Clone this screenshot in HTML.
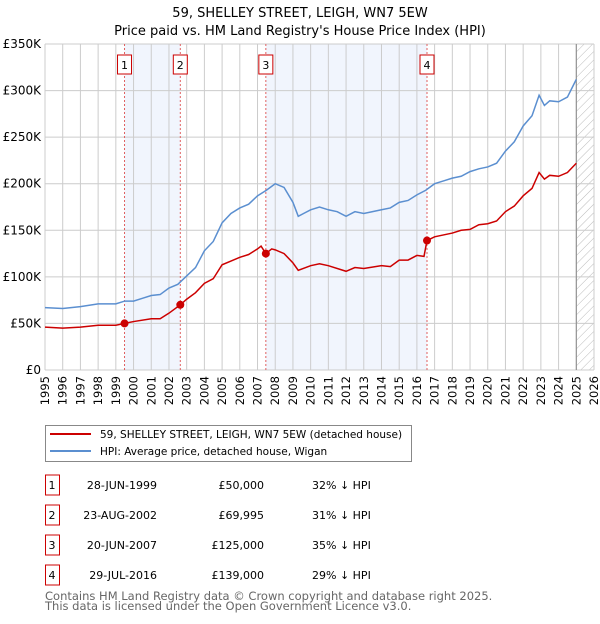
<!DOCTYPE html>
<html><head><meta charset="utf-8"><style>
body{margin:0;background:#fff;font-family:"DejaVu Sans","Liberation Sans",sans-serif}
svg text{font-family:"DejaVu Sans","Liberation Sans",sans-serif}
</style></head><body>
<svg id="c" width="600" height="620" viewBox="0 0 600 620" xmlns="http://www.w3.org/2000/svg">
<defs><pattern id="hatch" width="6" height="6" patternUnits="userSpaceOnUse" patternTransform="rotate(45)"><line x1="0" y1="0" x2="0" y2="6" stroke="#bbb" stroke-width="1"/></pattern></defs>
<text x="300" y="17" text-anchor="middle" font-size="13">59, SHELLEY STREET, LEIGH, WN7 5EW</text>
<text x="300" y="35" text-anchor="middle" font-size="13">Price paid vs. HM Land Registry's House Price Index (HPI)</text>
<g id="plot"></g>
<g>
<rect x="45.5" y="425.5" width="366" height="36" fill="#fff" stroke="#888"/>
<line x1="50" y1="434" x2="91" y2="434" stroke="#cc0000" stroke-width="2"/>
<text x="100" y="438" font-size="10.5">59, SHELLEY STREET, LEIGH, WN7 5EW (detached house)</text>
<line x1="50" y1="451" x2="91" y2="451" stroke="#5b8fd0" stroke-width="2"/>
<text x="100" y="455" font-size="10.5">HPI: Average price, detached house, Wigan</text>
</g>
<g id="table" font-size="11"></g>
<text x="45" y="600" font-size="11.5" fill="#666">Contains HM Land Registry data © Crown copyright and database right 2025.</text>
<text x="45" y="610" font-size="11.5" fill="#666">This data is licensed under the Open Government Licence v3.0.</text>
</svg>
<script>
const hpiYears=[1995,1996,1997,1998,1999,1999.5,2000,2000.5,2001,2001.5,2002,2002.5,2003,2003.5,2004,2004.5,2005,2005.5,2006,2006.5,2007,2007.5,2008,2008.5,2009,2009.3,2009.6,2010,2010.5,2011,2011.5,2012,2012.5,2013,2013.5,2014,2014.5,2015,2015.5,2016,2016.5,2017,2017.5,2018,2018.5,2019,2019.5,2020,2020.5,2021,2021.5,2022,2022.5,2022.9,2023.2,2023.5,2024,2024.5,2025];
const hpiValues=[67,66,68,71,71,74,74,77,80,81,88,92,101,110,128,138,158,168,174,178,187,193,200,196,180,165,168,172,175,172,170,165,170,168,170,172,174,180,182,188,193,200,203,206,208,213,216,218,222,235,245,262,273,295,284,289,288,293,312];
const propYears=[1995,1996,1997,1998,1999,1999.49,2000,2001,2001.5,2002,2002.64,2003,2003.5,2004,2004.5,2005,2005.5,2006,2006.5,2007,2007.2,2007.47,2007.8,2008,2008.5,2009,2009.3,2010,2010.5,2011,2012,2012.5,2013,2014,2014.5,2015,2015.5,2016,2016.4,2016.57,2017,2017.5,2018,2018.5,2019,2019.5,2020,2020.5,2021,2021.5,2022,2022.5,2022.9,2023.2,2023.5,2024,2024.5,2025];
const propValues=[46,45,46,48,48,50,52,55,55,61,70,76,83,93,98,113,117,121,124,130,133,125,130,129,125,115,107,112,114,112,106,110,109,112,111,118,118,123,122,139,143,145,147,150,151,156,157,160,170,176,187,195,212,205,209,208,212,222];
const saleYears=[1999.49,2002.64,2007.47,2016.57];
const saleValues=[50,69.995,125,139];
const saleLabels=["1","2","3","4"];
const saleDates=["28-JUN-1999","23-AUG-2002","20-JUN-2007","29-JUL-2016"];
const salePrices=["£50,000","£69,995","£125,000","£139,000"];
const salePcts=["32% ↓ HPI","31% ↓ HPI","35% ↓ HPI","29% ↓ HPI"];
const yTicks=[0,50,100,150,200,250,300,350];
const yTickLabels=["£0","£50K","£100K","£150K","£200K","£250K","£300K","£350K"];
const xTicks=[1995,1996,1997,1998,1999,2000,2001,2002,2003,2004,2005,2006,2007,2008,2009,2010,2011,2012,2013,2014,2015,2016,2017,2018,2019,2020,2021,2022,2023,2024,2025,2026];

const X0=45,X1=594,Y0=370,Y1=44;
const x=v=>X0+(v-1995)/(2026-1995)*(X1-X0);
const y=v=>Y0-v/350*(Y0-Y1);
const NS="http://www.w3.org/2000/svg";
const plot=document.getElementById('plot');
function mk(tag,attrs,parent){const e=document.createElementNS(NS,tag);for(const k in attrs)e.setAttribute(k,attrs[k]);(parent||plot).appendChild(e);return e;}
for(let i=0;i<saleYears.length-1;i+=2){
 const r=mk('rect',{x:x(saleYears[i]),y:Y1,width:x(saleYears[i+1])-x(saleYears[i]),height:Y0-Y1,fill:'#eef3fc',opacity:0.8});
 
 
}
const h=mk('rect',{x:x(2025),y:Y1,width:X1-x(2025),height:Y0-Y1,fill:'url(#hatch)'});


xTicks.forEach(t=>{
 const l=mk('line',{x1:x(t),x2:x(t),y1:Y1,y2:Y0,stroke:'#ccc','stroke-width':1});
 
 
 const tx=mk('text',{x:0,y:0,'font-size':11.5,'text-anchor':'end',transform:`translate(${x(t)+4},${Y0+6}) rotate(-90)`});
 tx.textContent=t;
 
 
});
yTicks.forEach((t,i)=>{
 const l=mk('line',{x1:X0,x2:X1,y1:y(t),y2:y(t),stroke:'#ccc','stroke-width':1});
 
 
 const tx=mk('text',{x:X0-4,y:y(t)+4,'font-size':12,'text-anchor':'end'});
 tx.textContent=yTickLabels[i];
 
 
});
const nl=mk('line',{x1:x(2025),x2:x(2025),y1:Y1,y2:Y0,stroke:'#888','stroke-width':1});


saleYears.forEach((s,i)=>{
 const l=mk('line',{x1:x(s),x2:x(s),y1:Y1,y2:Y0,stroke:'#e06060','stroke-width':1,'stroke-dasharray':'2,2'});
 
 
 const b=mk('rect',{x:x(s)-7,y:55,width:14,height:19,fill:'#fff',stroke:'#cc0000'});
 
 
 const t=mk('text',{x:x(s),y:69,'font-size':11,'text-anchor':'middle'});
 t.textContent=saleLabels[i];
 
 
});
const hp=mk('polyline',{points:hpiYears.map((v,i)=>x(v)+','+y(hpiValues[i])).join(' '),fill:'none',stroke:'#5b8fd0','stroke-width':1.5});


const pp=mk('polyline',{points:propYears.map((v,i)=>x(v)+','+y(propValues[i])).join(' '),fill:'none',stroke:'#cc0000','stroke-width':1.5});


saleYears.forEach((s,i)=>{
 const c=mk('circle',{cx:x(s),cy:y(saleValues[i]),r:4,fill:'#cc0000'});
 
 
});
const tb=document.getElementById('table');
saleLabels.forEach((lab,i)=>{
 const cy=485+i*30;
 const b=mk('rect',{x:45.5,y:cy-10,width:14,height:20,fill:'#fff',stroke:'#cc0000'},tb);
 
 
 const cols=[[52,'middle',lab,'row-number'],[157,'end',saleDates[i],'sale-date'],[264,'end',salePrices[i],'sale-price'],[312,'start',salePcts[i],'hpi-diff']];
 cols.forEach(c=>{
  const t=mk('text',{x:c[0],y:cy+4,'text-anchor':c[1]},tb);
  t.textContent=c[2];
  
  
 });
});
</script>
</body></html>
